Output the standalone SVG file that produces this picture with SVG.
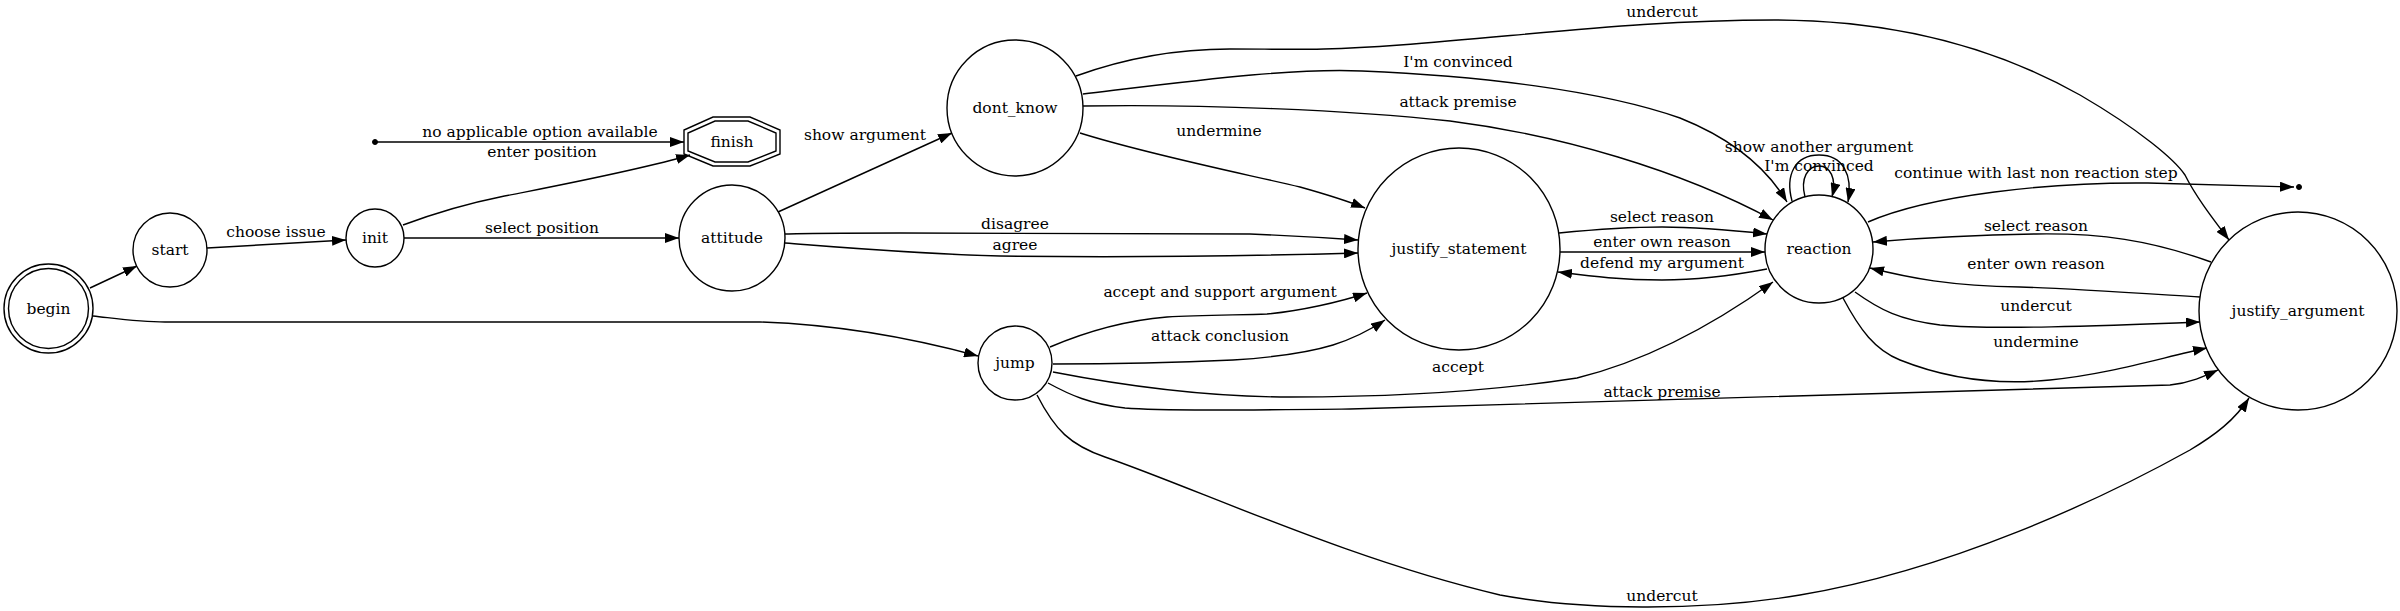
<svg xmlns="http://www.w3.org/2000/svg" width="2400" height="611" viewBox="0 0 2400 611">
<style>
.n{fill:none;stroke:#000;stroke-width:1.4}
.e{fill:none;stroke:#000;stroke-width:1.4;marker-end:url(#ah)}
text{font-family:"DejaVu Serif","Liberation Serif",serif;font-size:15.5px;fill:#000;text-anchor:middle}
.pt{fill:#000;stroke:#000}
</style>
<defs>
<marker id="ah" markerWidth="14" markerHeight="10" refX="14" refY="5" orient="auto" markerUnits="userSpaceOnUse">
<path d="M0,0 L14,5 L0,10 z" fill="#000"/>
</marker>
</defs>
<rect width="2400" height="611" fill="#fff"/>
<g id="connectors">
<g id="e-begin-start"><path class="e" d="M90,288 L137,266"/></g>
<g id="e-begin-jump"><path class="e" d="M93,316 C120,319 140,322 165,322 L760,322 C850,325 930,343 978,356"/></g>
<g id="e-start-init"><path class="e" d="M207,248 L346,240"/><text x="276" y="237">choose issue</text></g>
<g id="e-init-attitude"><path class="e" d="M404,238 L679,238"/><text x="542" y="233">select position</text></g>
<g id="e-init-finish"><path class="e" d="M403,225 C430,215 460,205 500,197 C560,185 640,170 690,155"/><text x="542" y="157">enter position</text></g>
<g id="e-pt1-finish"><path class="e" d="M375,142 L684,142"/><text x="540" y="137">no applicable option available</text></g>
<g id="e-attitude-dontknow"><path class="e" d="M778,212 L952,133"/><text x="865" y="140">show argument</text></g>
<g id="e-attitude-js-disagree"><path class="e" d="M785,234 C810,233 850,233 900,233 L1250,234 C1300,236 1330,238 1358,240"/><text x="1015" y="229">disagree</text></g>
<g id="e-attitude-js-agree"><path class="e" d="M785,243 C850,248 920,254 1000,256 C1150,258 1250,256 1358,253"/><text x="1015" y="250">agree</text></g>
<g id="e-dk-js"><path class="e" d="M1080,133 C1150,155 1250,175 1300,187 C1325,194 1345,200 1365,208"/><text x="1219" y="136">undermine</text></g>
<g id="e-dk-r-premise"><path class="e" d="M1083,106 C1200,104 1350,110 1450,121 C1560,135 1680,170 1773,220"/><text x="1458" y="107">attack premise</text></g>
<g id="e-dk-r-conv"><path class="e" d="M1083,94 C1200,80 1290,68 1362,71 C1480,76 1600,90 1680,118 C1730,138 1765,165 1787,202"/><text x="1458" y="67">I'm convinced</text></g>
<g id="e-dk-ja"><path class="e" d="M1076,76 C1120,60 1170,49 1230,49 C1290,49 1320,51 1400,45 C1550,33 1650,20 1774,20 C1900,20 2000,50 2080,95 C2140,130 2175,160 2185,175 C2195,195 2210,215 2229,240"/><text x="1662" y="17">undercut</text></g>
<g id="e-r-r-show"><path class="e" d="M1792,201 C1785,175 1795,155 1819,155 C1843,155 1853,175 1848,202"/><text x="1819" y="152">show another argument</text></g>
<g id="e-r-r-conv"><path class="e" d="M1805,197 C1800,178 1808,166 1819,166 C1830,166 1837,178 1832,197"/><text x="1819" y="171">I'm convinced</text></g>
<g id="e-r-pt2"><path class="e" d="M1868,222 C1930,195 2050,182 2148,183 C2200,184 2250,186 2294,187"/><text x="2036" y="178">continue with last non reaction step</text></g>
<g id="e-ja-r-select"><path class="e" d="M2211,262 C2150,240 2100,233 2036,234 C1970,235 1920,238 1873,242"/><text x="2036" y="231">select reason</text></g>
<g id="e-ja-r-enter"><path class="e" d="M2200,297 C2120,292 2060,288 2020,287 C1950,286 1910,278 1870,268"/><text x="2036" y="269">enter own reason</text></g>
<g id="e-r-ja-undercut"><path class="e" d="M1855,292 C1880,310 1900,320 1940,325 C1990,330 2100,326 2200,322"/><text x="2036" y="311">undercut</text></g>
<g id="e-r-ja-undermine"><path class="e" d="M1843,298 C1860,330 1875,350 1900,360 C1950,380 2000,385 2050,380 C2110,374 2160,358 2207,348"/><text x="2036" y="347">undermine</text></g>
<g id="e-js-r-select"><path class="e" d="M1559,233 C1600,229 1630,227 1662,227 C1700,227 1730,230 1767,234"/><text x="1662" y="222">select reason</text></g>
<g id="e-js-r-enter"><path class="e" d="M1560,252 L1765,252"/><text x="1662" y="247">enter own reason</text></g>
<g id="e-r-js-defend"><path class="e" d="M1767,269 C1730,276 1700,280 1662,280 C1620,280 1590,276 1558,272"/><text x="1662" y="268">defend my argument</text></g>
<g id="e-jump-js-support"><path class="e" d="M1050,347 C1090,330 1130,320 1167,317 C1200,315 1240,315 1267,314 C1300,311 1340,302 1367,293"/><text x="1220" y="297">accept and support argument</text></g>
<g id="e-jump-js-conclusion"><path class="e" d="M1053,364 C1120,364 1190,362 1233,360 C1280,357 1310,352 1333,345 C1355,338 1370,330 1385,320"/><text x="1220" y="341">attack conclusion</text></g>
<g id="e-jump-r-accept"><path class="e" d="M1053,372 C1120,385 1200,397 1290,397 C1400,397 1500,390 1577,378 C1650,360 1720,320 1773,282"/><text x="1458" y="372">accept</text></g>
<g id="e-jump-ja-premise"><path class="e" d="M1048,383 C1070,395 1090,404 1125,408 C1160,411 1250,410 1350,409 L2170,385 C2190,383 2205,376 2218,370"/><text x="1662" y="397">attack premise</text></g>
<g id="e-jump-ja-undercut"><path class="e" d="M1037,395 C1055,430 1070,445 1105,457 C1200,490 1350,560 1500,595 C1580,610 1700,612 1800,595 C1950,570 2100,500 2190,450 C2215,435 2235,420 2249,398"/><text x="1662" y="601">undercut</text></g>
</g>
<g id="begin"><circle class="n" cx="48.5" cy="308.5" r="44.5"/><circle class="n" cx="48.5" cy="308.5" r="40"/><text x="48.5" y="314">begin</text></g>
<g id="start"><circle class="n" cx="170" cy="250" r="37"/><text x="170" y="255">start</text></g>
<g id="init"><circle class="n" cx="375" cy="238" r="29"/><text x="375" y="243">init</text></g>
<g id="point1"><circle class="pt" cx="375" cy="142" r="2.5"/></g>
<g id="finish"><polygon class="n" points="713,117 750,117 780,130 780,154 750,166 713,166 684,154 684,130"/><polygon class="n" points="715,121 748,121 776,133 776,151 748,162 715,162 688,151 688,133"/><text x="732" y="147">finish</text></g>
<g id="attitude"><circle class="n" cx="732" cy="238" r="53"/><text x="732" y="243">attitude</text></g>
<g id="dont_know"><circle class="n" cx="1015" cy="108" r="68"/><text x="1015" y="113">dont_know</text></g>
<g id="jump"><circle class="n" cx="1015" cy="363" r="37"/><text x="1015" y="368">jump</text></g>
<g id="justify_statement"><circle class="n" cx="1459" cy="249" r="101"/><text x="1459" y="254">justify_statement</text></g>
<g id="reaction"><circle class="n" cx="1819" cy="249" r="54"/><text x="1819" y="254">reaction</text></g>
<g id="point2"><circle class="pt" cx="2299" cy="187" r="2.5"/></g>
<g id="justify_argument"><circle class="n" cx="2298" cy="311" r="99"/><text x="2298" y="316">justify_argument</text></g>
</svg>
